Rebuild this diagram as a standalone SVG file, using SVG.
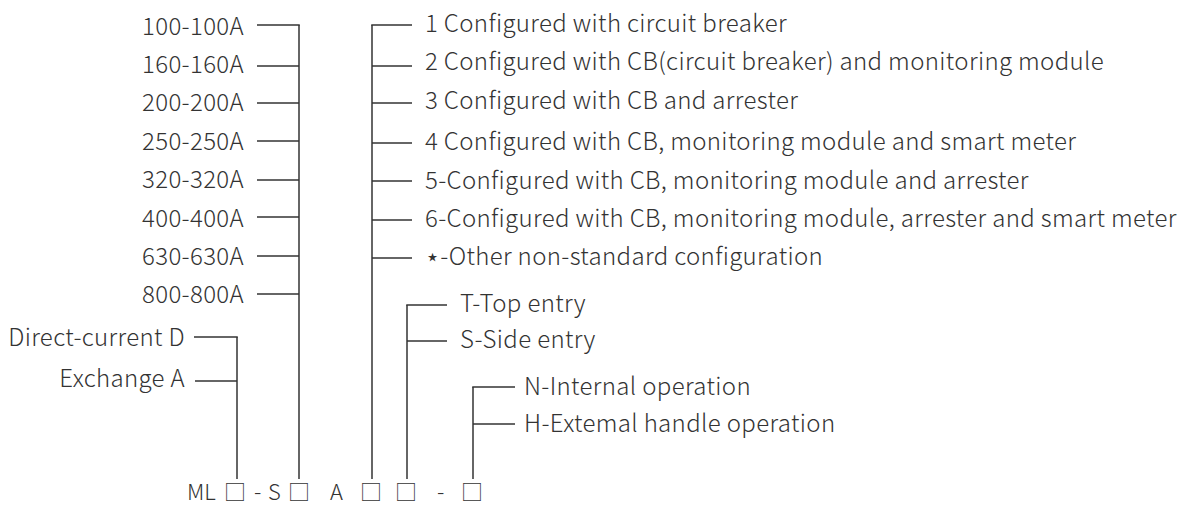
<svg xmlns="http://www.w3.org/2000/svg" width="1184" height="506" viewBox="0 0 1184 506">
<style>
text{font-family:"Noto Sans CJK SC","Noto Sans",sans-serif;font-size:24px;letter-spacing:0.35px;font-weight:300;fill:#333}
.r{text-anchor:end}
.c{text-anchor:middle}
#model-code text{font-size:22px;letter-spacing:0}
#connectors line{stroke:#333;stroke-width:1.5}
</style>
<rect width="1184" height="506" fill="#fff"/>
<g id="connectors">
<line x1="299" y1="25" x2="299" y2="479"/>
<line x1="257" y1="25" x2="299.75" y2="25"/>
<line x1="257" y1="66" x2="299" y2="66"/>
<line x1="257" y1="103" x2="299" y2="103"/>
<line x1="257" y1="141" x2="299" y2="141"/>
<line x1="257" y1="180" x2="299" y2="180"/>
<line x1="257" y1="217" x2="299" y2="217"/>
<line x1="257" y1="256" x2="299" y2="256"/>
<line x1="257" y1="294" x2="299" y2="294"/>
<line x1="372" y1="25" x2="372" y2="479"/>
<line x1="371.25" y1="25" x2="412" y2="25"/>
<line x1="372" y1="66" x2="412" y2="66"/>
<line x1="372" y1="103" x2="412" y2="103"/>
<line x1="372" y1="143" x2="412" y2="143"/>
<line x1="372" y1="181" x2="412" y2="181"/>
<line x1="372" y1="220" x2="412" y2="220"/>
<line x1="372" y1="258" x2="412" y2="258"/>
<line x1="407" y1="305" x2="407" y2="479"/>
<line x1="406.25" y1="305" x2="447" y2="305"/>
<line x1="407" y1="341" x2="447" y2="341"/>
<line x1="473" y1="387" x2="473" y2="479"/>
<line x1="472.25" y1="387" x2="515" y2="387"/>
<line x1="473" y1="424" x2="515" y2="424"/>
<line x1="237" y1="337" x2="237" y2="479"/>
<line x1="194" y1="337" x2="237.75" y2="337"/>
<line x1="195" y1="381" x2="237" y2="381"/>
</g>
<g id="current-ratings">
<text class="r" x="244" y="35">100-100A</text>
<text class="r" x="244" y="73">160-160A</text>
<text class="r" x="244" y="111">200-200A</text>
<text class="r" x="244" y="150">250-250A</text>
<text class="r" x="244" y="188">320-320A</text>
<text class="r" x="244" y="227">400-400A</text>
<text class="r" x="244" y="265">630-630A</text>
<text class="r" x="244" y="303">800-800A</text>
</g>
<g id="configurations">
<text x="425" y="32">1 Configured with circuit breaker</text>
<text x="425" y="70">2 Configured with CB(circuit breaker) and monitoring module</text>
<text x="425" y="109">3 Configured with CB and arrester</text>
<text x="425" y="150">4 Configured with CB, monitoring module and smart meter</text>
<text x="425" y="189">5-Configured with CB, monitoring module and arrester</text>
<text x="425" y="227">6-Configured with CB, monitoring module, arrester and smart meter</text>
<text x="425" y="265">⋆-Other non-standard configuration</text>
</g>
<g id="entry">
<text x="460" y="312">T-Top entry</text>
<text x="460" y="348">S-Side entry</text>
</g>
<g id="operation">
<text x="524" y="395">N-Internal operation</text>
<text x="524" y="432">H-Extemal handle operation</text>
</g>
<g id="current-type">
<text class="r" x="185" y="346">Direct-current D</text>
<text class="r" x="185" y="387">Exchange A</text>
</g>
<g id="model-code">
<text x="187" y="500">ML</text>
<text class="c" x="235" y="500">□</text>
<text x="254" y="500">-</text>
<text x="268" y="500">S</text>
<text class="c" x="299" y="500">□</text>
<text x="330" y="500">A</text>
<text class="c" x="371" y="500">□</text>
<text class="c" x="406" y="500">□</text>
<text x="437" y="500">-</text>
<text class="c" x="472" y="500">□</text>
</g>
</svg>
